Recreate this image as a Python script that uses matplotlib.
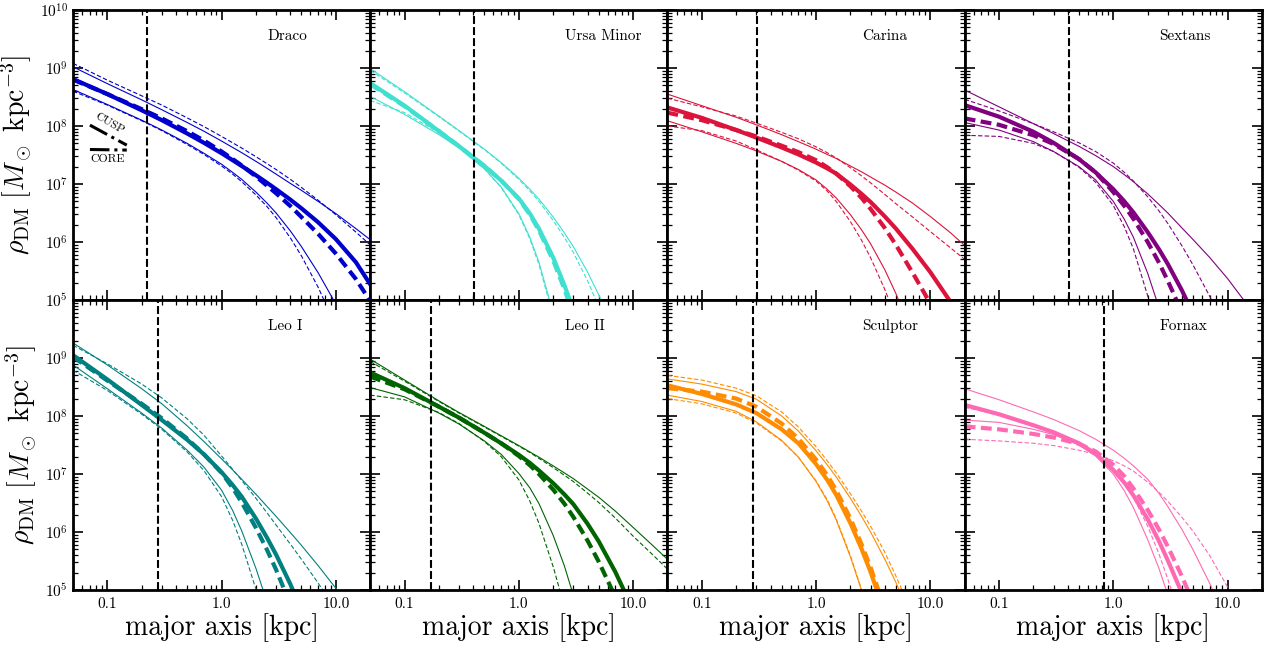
import numpy as np
import matplotlib
matplotlib.use("Agg")
import matplotlib.pyplot as plt
from matplotlib.ticker import LogLocator, FuncFormatter, NullFormatter

# Police type LaTeX (Computer Modern livrée avec matplotlib)
plt.rcParams["font.family"] = "cmr10"
plt.rcParams["mathtext.fontset"] = "cm"
plt.rcParams["axes.formatter.use_mathtext"] = True
plt.rcParams["axes.unicode_minus"] = False

# --- Données --------------------------------------------------------------
# rayon le long du grand axe (kpc), grille commune à tous les profils
r_kpc = np.array([0.05, 0.1, 0.2, 0.3, 0.5, 0.7, 1.0, 1.25, 1.5, 2.0, 2.5, 3.0,
                  4.0, 5.0, 7.0, 10.0, 15.0, 20.0])

# log10(rho_DM / Msun kpc^-3) : meilleur ajustement cusp / core + bornes
draco_cusp = [8.81, 8.55, 8.27, 8.10, 7.87, 7.71, 7.53, 7.41, 7.31, 7.15, 7.02, 6.91, 6.73, 6.58, 6.34, 6.05, 5.65, 5.27]
draco_core = [8.80, 8.55, 8.29, 8.13, 7.91, 7.75, 7.56, 7.43, 7.32, 7.13, 6.97, 6.84, 6.62, 6.43, 6.14, 5.80, 5.36, 4.98]
draco_cusp_hi = [9.02, 8.73, 8.45, 8.28, 8.06, 7.91, 7.74, 7.63, 7.54, 7.39, 7.27, 7.17, 7.01, 6.89, 6.70, 6.49, 6.23, 6.04]
draco_core_hi = [9.08, 8.79, 8.52, 8.36, 8.14, 7.99, 7.82, 7.71, 7.62, 7.47, 7.35, 7.25, 7.08, 6.94, 6.72, 6.47, 6.17, 5.95]
draco_cusp_lo = [8.63, 8.37, 8.10, 7.93, 7.70, 7.53, 7.34, 7.20, 7.08, 6.86, 6.67, 6.50, 6.19, 5.92, 5.47, 4.93, 4.23, 3.67]
draco_core_lo = [8.60, 8.36, 8.09, 7.92, 7.68, 7.51, 7.31, 7.17, 7.04, 6.81, 6.61, 6.42, 6.07, 5.76, 5.22, 4.55, 3.67, 2.98]

umi_cusp = [8.74, 8.35, 7.91, 7.65, 7.31, 7.06, 6.75, 6.49, 6.23, 5.73, 5.26, 4.83, 4.08, 3.45, 2.43, 1.40, 0.20, -0.60]
umi_core = [8.72, 8.34, 7.91, 7.65, 7.31, 7.06, 6.74, 6.47, 6.20, 5.68, 5.19, 4.74, 3.98, 3.35, 2.33, 1.30, 0.10, -0.70]
umi_cusp_hi = [8.99, 8.59, 8.17, 7.92, 7.60, 7.37, 7.10, 6.91, 6.74, 6.43, 6.16, 5.92, 5.48, 5.09, 4.43, 3.66, 2.69, 1.94]
umi_core_hi = [8.96, 8.57, 8.16, 7.91, 7.59, 7.36, 7.08, 6.88, 6.70, 6.37, 6.08, 5.82, 5.33, 4.88, 4.15, 3.30, 2.30, 1.50]
umi_cusp_lo = [8.51, 8.20, 7.85, 7.62, 7.26, 6.95, 6.49, 6.08, 5.65, 4.78, 4.00, 3.33, 2.30, 1.50, 0.50, 0.00, -0.50, -1.00]
umi_core_lo = [8.44, 8.23, 7.88, 7.63, 7.26, 6.94, 6.47, 6.05, 5.61, 4.72, 3.93, 3.25, 2.20, 1.40, 0.40, -0.10, -0.60, -1.10]

carina_cusp = [8.32, 8.14, 7.93, 7.80, 7.63, 7.51, 7.37, 7.27, 7.18, 6.99, 6.83, 6.69, 6.44, 6.23, 5.88, 5.48, 4.97, 4.57]
carina_core = [8.23, 8.10, 7.93, 7.82, 7.66, 7.55, 7.41, 7.29, 7.18, 6.96, 6.76, 6.57, 6.24, 5.95, 5.47, 4.94, 4.25, 3.71]
carina_cusp_hi = [8.55, 8.35, 8.15, 8.02, 7.85, 7.73, 7.60, 7.51, 7.44, 7.31, 7.21, 7.12, 6.98, 6.86, 6.67, 6.44, 6.16, 5.94]
carina_core_hi = [8.48, 8.33, 8.17, 8.05, 7.89, 7.78, 7.64, 7.54, 7.45, 7.28, 7.14, 7.02, 6.82, 6.66, 6.43, 6.18, 5.90, 5.70]
carina_cusp_lo = [8.09, 7.90, 7.70, 7.57, 7.39, 7.25, 7.07, 6.91, 6.76, 6.47, 6.21, 5.97, 5.52, 5.11, 4.41, 3.60, 2.60, 1.90]
carina_core_lo = [8.00, 7.92, 7.74, 7.59, 7.39, 7.24, 7.05, 6.88, 6.70, 6.35, 6.03, 5.73, 5.18, 4.70, 3.90, 2.97, 1.83, 0.96]

sextans_cusp = [8.36, 8.16, 7.90, 7.71, 7.43, 7.20, 6.91, 6.70, 6.51, 6.17, 5.88, 5.62, 5.16, 4.76, 4.09, 3.31, 2.34, 1.59]
sextans_core = [8.13, 8.02, 7.84, 7.69, 7.43, 7.20, 6.86, 6.62, 6.40, 6.00, 5.65, 5.33, 4.78, 4.31, 3.55, 2.68, 1.62, 0.81]
sextans_cusp_hi = [8.62, 8.33, 8.04, 7.87, 7.65, 7.49, 7.30, 7.16, 7.04, 6.83, 6.65, 6.50, 6.24, 6.04, 5.73, 5.37, 4.91, 4.55]
sextans_core_hi = [8.46, 8.26, 8.04, 7.90, 7.71, 7.56, 7.36, 7.20, 7.05, 6.78, 6.54, 6.32, 5.93, 5.60, 5.06, 4.42, 3.63, 3.02]
sextans_cusp_lo = [8.06, 7.93, 7.73, 7.56, 7.30, 7.07, 6.70, 6.39, 6.08, 5.46, 4.88, 4.37, 3.50, 2.77, 1.70, 0.50, -0.80, -1.70]
sextans_core_lo = [7.84, 7.82, 7.70, 7.56, 7.29, 7.03, 6.63, 6.26, 5.88, 5.07, 4.39, 3.80, 2.80, 2.00, 0.80, -0.40, -1.60, -2.40]

leo1_cusp = [9.05, 8.63, 8.19, 7.93, 7.59, 7.34, 7.03, 6.81, 6.61, 6.23, 5.90, 5.61, 5.10, 4.66, 3.93, 3.20, 2.30, 1.60]
leo1_core = [9.02, 8.61, 8.21, 7.96, 7.61, 7.34, 7.02, 6.76, 6.51, 6.07, 5.69, 5.35, 4.75, 4.25, 3.43, 2.60, 1.70, 1.00]
leo1_cusp_hi = [9.26, 8.88, 8.47, 8.21, 7.83, 7.56, 7.26, 7.07, 6.91, 6.65, 6.44, 6.27, 5.99, 5.77, 5.42, 5.03, 4.53, 4.15]
leo1_core_hi = [9.22, 8.90, 8.55, 8.31, 7.95, 7.67, 7.31, 7.08, 6.89, 6.58, 6.33, 6.12, 5.79, 5.53, 5.12, 4.67, 4.00, 3.50]
leo1_cusp_lo = [8.88, 8.47, 8.05, 7.79, 7.41, 7.12, 6.72, 6.37, 6.02, 5.37, 4.79, 4.28, 3.40, 2.70, 1.80, 1.00, 0.30, 0.00]
leo1_core_lo = [8.79, 8.44, 8.03, 7.77, 7.38, 7.06, 6.61, 6.20, 5.79, 5.01, 4.33, 3.75, 2.80, 2.00, 1.00, 0.30, 0.00, -0.50]

leo2_cusp = [8.75, 8.48, 8.16, 7.97, 7.71, 7.53, 7.33, 7.19, 7.06, 6.84, 6.65, 6.48, 6.14, 5.84, 5.31, 4.66, 3.80, 3.10]
leo2_core = [8.68, 8.46, 8.16, 7.97, 7.71, 7.53, 7.31, 7.15, 7.00, 6.73, 6.49, 6.26, 5.85, 5.49, 4.88, 4.15, 3.24, 2.54]
leo2_cusp_hi = [8.98, 8.62, 8.26, 8.06, 7.82, 7.66, 7.49, 7.38, 7.29, 7.14, 7.02, 6.92, 6.74, 6.60, 6.36, 6.08, 5.76, 5.53]
leo2_core_hi = [8.94, 8.60, 8.25, 8.05, 7.81, 7.65, 7.48, 7.37, 7.27, 7.11, 6.98, 6.87, 6.67, 6.51, 6.24, 5.93, 5.60, 5.36]
leo2_cusp_lo = [8.49, 8.33, 8.05, 7.86, 7.57, 7.34, 7.01, 6.76, 6.49, 5.94, 5.42, 4.91, 4.04, 3.31, 2.20, 1.00, -0.20, -1.00]
leo2_core_lo = [8.36, 8.28, 8.06, 7.87, 7.56, 7.30, 6.90, 6.53, 6.15, 5.40, 4.72, 4.13, 3.20, 2.40, 1.20, 0.00, -1.00, -2.00]

sculptor_cusp = [8.53, 8.38, 8.20, 8.05, 7.77, 7.53, 7.17, 6.90, 6.64, 6.15, 5.71, 5.31, 4.60, 4.00, 3.02, 1.90, 0.60, -0.30]
sculptor_core = [8.48, 8.42, 8.30, 8.16, 7.87, 7.61, 7.25, 6.98, 6.72, 6.23, 5.79, 5.39, 4.68, 4.08, 3.10, 2.00, 0.70, -0.20]
sculptor_cusp_hi = [8.64, 8.55, 8.42, 8.29, 8.00, 7.74, 7.40, 7.16, 6.95, 6.58, 6.27, 6.00, 5.53, 5.13, 4.47, 3.70, 2.73, 1.98]
sculptor_core_hi = [8.70, 8.62, 8.48, 8.35, 8.07, 7.81, 7.47, 7.23, 7.02, 6.66, 6.36, 6.10, 5.65, 5.24, 4.57, 3.80, 2.80, 2.00]
sculptor_cusp_lo = [8.36, 8.25, 8.08, 7.90, 7.58, 7.29, 6.87, 6.54, 6.21, 5.57, 4.99, 4.40, 3.45, 2.65, 1.50, 0.30, -1.00, -2.00]
sculptor_core_lo = [8.30, 8.21, 8.05, 7.88, 7.57, 7.29, 6.88, 6.56, 6.23, 5.59, 5.01, 4.42, 3.47, 2.67, 1.52, 0.32, -0.98, -1.98]

fornax_cusp = [8.19, 8.03, 7.84, 7.72, 7.53, 7.35, 7.07, 6.85, 6.63, 6.22, 5.85, 5.51, 4.94, 4.43, 3.58, 2.60, 1.40, 0.50]
fornax_core = [7.82, 7.77, 7.69, 7.63, 7.52, 7.39, 7.16, 6.96, 6.75, 6.38, 6.05, 5.75, 5.23, 4.78, 4.05, 3.21, 2.19, 1.42]
fornax_cusp_hi = [8.47, 8.28, 8.07, 7.94, 7.75, 7.60, 7.41, 7.27, 7.14, 6.91, 6.67, 6.44, 6.04, 5.69, 5.11, 4.41, 3.50, 2.80]
fornax_core_hi = [7.60, 7.57, 7.53, 7.49, 7.41, 7.34, 7.23, 7.14, 7.05, 6.86, 6.69, 6.53, 6.25, 6.01, 5.59, 5.05, 4.36, 3.80]
fornax_cusp_lo = [7.93, 7.89, 7.77, 7.68, 7.50, 7.31, 7.00, 6.71, 6.42, 5.87, 5.38, 4.92, 4.10, 3.40, 2.40, 1.30, 0.00, -1.00]
fornax_core_lo = [8.15, 8.02, 7.83, 7.71, 7.53, 7.35, 7.07, 6.84, 6.60, 6.10, 5.63, 5.19, 4.42, 3.80, 2.80, 1.70, 0.40, -0.50]

names = ["Draco", "Ursa Minor", "Carina", "Sextans", "Leo I", "Leo II", "Sculptor", "Fornax"]
colors = ["mediumblue", "turquoise", "crimson", "purple", "teal", "darkgreen", "darkorange", "hotpink"]
# rayon de demi-lumière (ligne verticale), kpc
r_half = [0.221, 0.405, 0.304, 0.408, 0.275, 0.171, 0.283, 0.835]

profiles = [
    (draco_cusp, draco_core, draco_cusp_hi, draco_core_hi, draco_cusp_lo, draco_core_lo),
    (umi_cusp, umi_core, umi_cusp_hi, umi_core_hi, umi_cusp_lo, umi_core_lo),
    (carina_cusp, carina_core, carina_cusp_hi, carina_core_hi, carina_cusp_lo, carina_core_lo),
    (sextans_cusp, sextans_core, sextans_cusp_hi, sextans_core_hi, sextans_cusp_lo, sextans_core_lo),
    (leo1_cusp, leo1_core, leo1_cusp_hi, leo1_core_hi, leo1_cusp_lo, leo1_core_lo),
    (leo2_cusp, leo2_core, leo2_cusp_hi, leo2_core_hi, leo2_cusp_lo, leo2_core_lo),
    (sculptor_cusp, sculptor_core, sculptor_cusp_hi, sculptor_core_hi, sculptor_cusp_lo, sculptor_core_lo),
    (fornax_cusp, fornax_core, fornax_cusp_hi, fornax_core_hi, fornax_cusp_lo, fornax_core_lo),
]


def y_label_fmt(top_visible):
    def fmt(v, pos):
        if v > 5e9 and not top_visible:
            return ""
        return r"$10^{%d}$" % int(round(np.log10(v)))
    return fmt


fig, axes = plt.subplots(2, 4, figsize=(12.67, 6.49), dpi=100)
fig.subplots_adjust(left=0.0576, right=0.996, top=0.9846, bottom=0.0909,
                    wspace=0, hspace=0)

for i, ax in enumerate(axes.flat):
    c = colors[i]
    cusp, core, cusp_hi, core_hi, cusp_lo, core_lo = profiles[i]

    # bornes (traits fins)
    for band in (cusp_hi, cusp_lo):
        ax.plot(r_kpc, 10 ** np.array(band), color=c, lw=0.8)
    for band in (core_hi, core_lo):
        ax.plot(r_kpc, 10 ** np.array(band), color=c, lw=0.8, dashes=(4, 2))
    # meilleur ajustement (traits épais)
    ax.plot(r_kpc, 10 ** np.array(cusp), color=c, lw=3)
    ax.plot(r_kpc, 10 ** np.array(core), color=c, lw=3, dashes=(2.6, 1.3))

    ax.axvline(r_half[i], color="k", lw=1.5, dashes=(3.8, 1.5))

    ax.set_xscale("log")
    ax.set_yscale("log")
    ax.set_xlim(0.05, 20)
    ax.set_ylim(1e5, 1e10)

    ax.text(0.655, 0.91, names[i], transform=ax.transAxes, fontsize=11, va="center")

    # graduations
    ax.xaxis.set_major_locator(LogLocator(base=10, numticks=10))
    ax.xaxis.set_minor_locator(LogLocator(base=10, subs=np.arange(2, 10), numticks=100))
    ax.yaxis.set_major_locator(LogLocator(base=10, numticks=10))
    ax.yaxis.set_minor_locator(LogLocator(base=10, subs=np.arange(2, 10), numticks=100))
    ax.xaxis.set_minor_formatter(NullFormatter())
    ax.yaxis.set_minor_formatter(NullFormatter())
    ax.xaxis.set_major_formatter(FuncFormatter(lambda v, p: "%.1f" % v))
    ax.yaxis.set_major_formatter(FuncFormatter(y_label_fmt(i == 0)))
    ax.tick_params(which="both", direction="in", top=True, right=True)
    ax.tick_params(which="major", length=7, width=1.2)
    ax.tick_params(which="minor", length=3.5, width=0.9)
    ax.tick_params(axis="x", which="major", labelsize=11, pad=5)
    ax.tick_params(axis="y", which="major", labelsize=11)
    for sp in ax.spines.values():
        sp.set_linewidth(2)

    row, col = divmod(i, 4)
    if row == 0:
        ax.tick_params(labelbottom=False)
    else:
        ax.set_xlabel("major axis [kpc]", fontsize=20, labelpad=2)
    if col > 0:
        ax.tick_params(labelleft=False)
    else:
        ax.set_ylabel(r"$\rho_{\rm DM}\ [M_\odot\ {\rm kpc}^{-3}]$", fontsize=20)

# petite légende CUSP / CORE dans le panneau Draco
ax0 = axes[0, 0]
ax0.plot([0.057, 0.181], [0.603, 0.534], transform=ax0.transAxes,
         color="k", lw=2.2, ls="-.")
ax0.plot([0.057, 0.181], [0.519, 0.517], transform=ax0.transAxes,
         color="k", lw=2.2, ls="-.")
ax0.text(0.124, 0.607, "CUSP", transform=ax0.transAxes, fontsize=8.5,
         rotation=-30, ha="center", va="center", rotation_mode="anchor")
ax0.text(0.115, 0.487, "CORE", transform=ax0.transAxes, fontsize=8.5,
         ha="center", va="center")

fig.savefig("out.png", dpi=100)
